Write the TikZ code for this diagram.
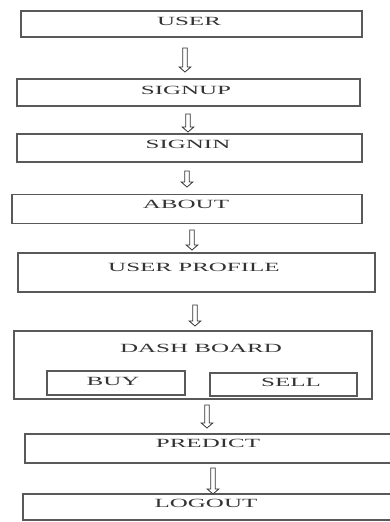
\documentclass[tikz,border=0pt]{standalone}
\usepackage{fontspec}
\setmainfont{Liberation Serif}
\newfontfamily\boxfont[FakeStretch=2.0]{Liberation Serif}
\usetikzlibrary{calc}
\tikzset{
  box/.style={draw=black!65, line width=1.2pt, rectangle, inner sep=0pt, fill=white},
  lbl/.style={font=\boxfont\fontsize{12.5}{13}\selectfont, text=black!80, inner sep=0pt},
  blockarrow/.style={draw=black!80, line width=0.8pt, fill=white, to path={
    let \p1=(\tikztostart), \p2=(\tikztotarget) in
    (\x1-2.3pt,\y1) -- (\x1+2.3pt,\y1) -- (\x1+2.3pt,\y2+5pt) -- (\x1+5.8pt,\y2+5pt)
    -- (\x2,\y2) -- (\x1-5.8pt,\y2+5pt) -- (\x1-2.3pt,\y2+5pt) -- cycle}}
}
\begin{document}
\begin{tikzpicture}[x=1pt,y=-1pt]
\useasboundingbox (0,0) rectangle (389,522);
% boxes
\node[box, minimum width=341pt, minimum height=26pt] (user) at (191.5,24) {};
\node[lbl] (usert) at (189,21.5) {USER};
\node[box, minimum width=343pt, minimum height=27pt] (signup) at (188.5,92.5) {};
\node[lbl] (signupt) at (186,90) {SIGNUP};
\node[box, minimum width=345pt, minimum height=28pt] (signin) at (189.5,148) {};
\node[lbl] (signint) at (188,144.5) {SIGNIN};
\node[box, minimum width=350pt, minimum height=29pt] (about) at (187,209) {};
\node[lbl] (aboutt) at (186,204.5) {ABOUT};
\node[box, minimum width=357pt, minimum height=39pt] (profile) at (196.5,272.5) {};
\node[lbl] (profilet) at (194,267) {USER PROFILE};
\node[box, minimum width=358pt, minimum height=68pt] (dash) at (193,365) {};
\node[lbl] (dasht) at (201,348) {DASH BOARD};
\node[box, minimum width=138pt, minimum height=24pt] (buy) at (116,383) {};
\node[lbl] (buyt) at (113,381.5) {BUY};
\node[box, minimum width=147pt, minimum height=23pt] (sell) at (283.5,384.5) {};
\node[lbl] (sellt) at (291,382.5) {SELL};
\node[box, minimum width=375pt, minimum height=29pt] (predict) at (212.5,448.5) {};
\node[lbl] (predictt) at (208,443.5) {PREDICT};
\node[box, minimum width=377pt, minimum height=26pt] (logout) at (211.5,507) {};
\node[lbl] (logoutt) at (206,503.5) {LOGOUT};
% arrow end points
\coordinate (a1s) at (185,48);  \coordinate (a1e) at (185,72);
\coordinate (a2s) at (188,114); \coordinate (a2e) at (188,132);
\coordinate (a3s) at (187,171); \coordinate (a3e) at (187,187);
\coordinate (a4s) at (192,230); \coordinate (a4e) at (192,250);
\coordinate (a5s) at (195,305); \coordinate (a5e) at (195,326);
\coordinate (a6s) at (207,405); \coordinate (a6e) at (207,428);
\coordinate (a7s) at (213,468); \coordinate (a7e) at (213,494);
\draw[blockarrow] (a1s) to (a1e);
\draw[blockarrow] (a2s) to (a2e);
\draw[blockarrow] (a3s) to (a3e);
\draw[blockarrow] (a4s) to (a4e);
\draw[blockarrow] (a5s) to (a5e);
\draw[blockarrow] (a6s) to (a6e);
\draw[blockarrow] (a7s) to (a7e);
\end{tikzpicture}
\end{document}
